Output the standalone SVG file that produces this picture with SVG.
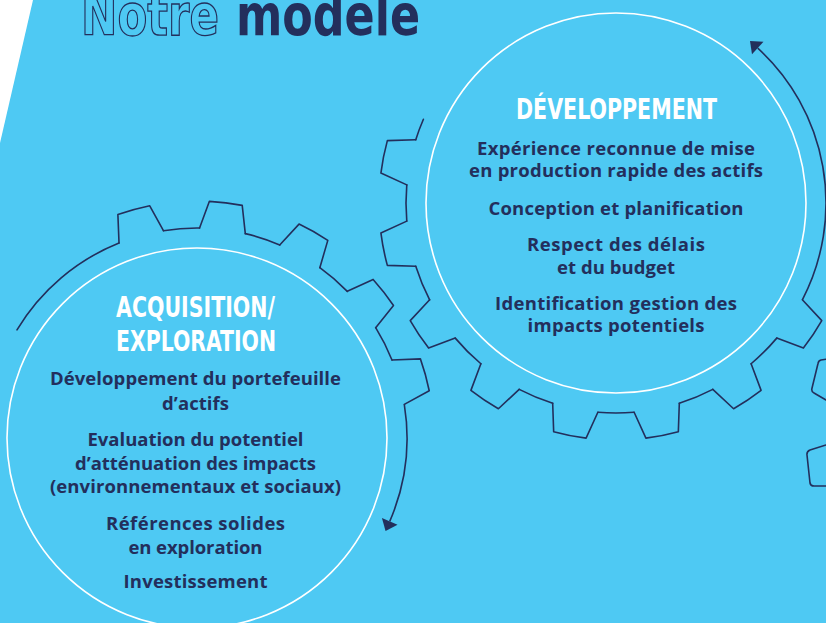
<svg xmlns="http://www.w3.org/2000/svg" xmlns:xlink="http://www.w3.org/1999/xlink" width="826" height="623" viewBox="0 0 826 623">
<style>
.gear{fill:none;stroke:#232f5c;stroke-width:1.6;stroke-linejoin:round;stroke-linecap:round}
.ring{fill:none;stroke:#ffffff;stroke-width:1.6}
.head{font-family:'Liberation Sans Narrow','DejaVu Sans Condensed','DejaVu Sans',sans-serif;font-weight:700;fill:#ffffff;font-size:29px}
.body{font-family:'Open Sans','Noto Sans',sans-serif;font-weight:700;fill:#232f5c;font-size:18.5px}
.title{font-family:'Liberation Sans Narrow','DejaVu Sans Condensed','DejaVu Sans',sans-serif;font-weight:700;font-size:57px}
.arrow{fill:none;stroke:#232f5c;stroke-width:1.6}
</style>
<defs>
<path id="tooth" d="M208.73,-23.04 L236.42,-16.53 A237,237 0 0 1 236.42,16.53 L208.73,23.04"/>
<path id="gap" d="M209.22,-18.12 A210,210 0 0 1 209.22,18.12"/>
<marker id="head" markerUnits="userSpaceOnUse" markerWidth="12" markerHeight="18" refX="0" refY="8.5" orient="auto" overflow="visible">
<path d="M0,0 L10.5,8.5 L0,17 z" fill="#232f5c"/>
</marker>
</defs>
<rect x="0" y="0" width="826" height="623" fill="#4ec9f3"/>
<polygon points="0,0 33,0 0,143" fill="#ffffff"/>

<g id="title">
<text class="title" x="81" y="35" textLength="138" lengthAdjust="spacingAndGlyphs" fill="#4ec9f3" stroke="#232f5c" stroke-width="1.3">Notre</text>
<text class="title" x="236" y="35" textLength="184" lengthAdjust="spacingAndGlyphs" fill="#232f5c">modèle</text>
</g>

<g id="node-acquisition">
<g class="gear">
<path d="M16.99,329.84 A210,210 0 0 1 119.01,243.02"/>
<use xlink:href="#tooth" transform="translate(197,438) rotate(254.5)"/>
<use xlink:href="#gap" transform="translate(197,438) rotate(265.75)"/>
<use xlink:href="#tooth" transform="translate(197,438) rotate(277)"/>
<use xlink:href="#gap" transform="translate(197,438) rotate(288.25)"/>
<use xlink:href="#tooth" transform="translate(197,438) rotate(299.5)"/>
<use xlink:href="#gap" transform="translate(197,438) rotate(310.75)"/>
<use xlink:href="#tooth" transform="translate(197,438) rotate(322)"/>
<use xlink:href="#gap" transform="translate(197,438) rotate(333.25)"/>
<use xlink:href="#tooth" transform="translate(197,438) rotate(344.5)"/>
</g>
<circle class="ring" cx="197" cy="438" r="190"/>
<text class="head" x="116" y="317" textLength="159" lengthAdjust="spacingAndGlyphs">ACQUISITION/</text>
<text class="head" x="116" y="351" textLength="160" lengthAdjust="spacingAndGlyphs">EXPLORATION</text>
<text class="body" x="50" y="385" textLength="291">Développement du portefeuille</text>
<text class="body" x="162" y="409.5" textLength="67">d’actifs</text>
<text class="body" x="87.5" y="446" textLength="216">Evaluation du potentiel</text>
<text class="body" x="75" y="470" textLength="241">d’atténuation des impacts</text>
<text class="body" x="50" y="493" textLength="291">(environnementaux et sociaux)</text>
<text class="body" x="106" y="530" textLength="179">Références solides</text>
<text class="body" x="128.5" y="553.5" textLength="134">en exploration</text>
<text class="body" x="123.5" y="588" textLength="144">Investissement</text>
</g>

<g id="node-developpement">
<g class="gear">
<path d="M423.42,119.26 A210,210 0 0 0 415.77,139.68"/>
<use xlink:href="#tooth" transform="translate(616,203) rotate(191.25)"/>
<use xlink:href="#gap" transform="translate(616,203) rotate(180)"/>
<use xlink:href="#tooth" transform="translate(616,203) rotate(168.75)"/>
<use xlink:href="#gap" transform="translate(616,203) rotate(157.5)"/>
<use xlink:href="#tooth" transform="translate(616,203) rotate(146.25)"/>
<use xlink:href="#gap" transform="translate(616,203) rotate(135)"/>
<use xlink:href="#tooth" transform="translate(616,203) rotate(123.75)"/>
<use xlink:href="#gap" transform="translate(616,203) rotate(112.5)"/>
<use xlink:href="#tooth" transform="translate(616,203) rotate(101.25)"/>
<use xlink:href="#gap" transform="translate(616,203) rotate(90)"/>
<use xlink:href="#tooth" transform="translate(616,203) rotate(78.75)"/>
<use xlink:href="#gap" transform="translate(616,203) rotate(67.5)"/>
<use xlink:href="#tooth" transform="translate(616,203) rotate(56.25)"/>
<use xlink:href="#gap" transform="translate(616,203) rotate(45)"/>
<use xlink:href="#tooth" transform="translate(616,203) rotate(33.75)"/>
</g>
<circle class="ring" cx="616" cy="203" r="190"/>
<text class="head" x="516" y="119" textLength="201" lengthAdjust="spacingAndGlyphs">DÉVELOPPEMENT</text>
<text class="body" x="477" y="155" textLength="278">Expérience reconnue de mise</text>
<text class="body" x="469" y="177" textLength="294">en production rapide des actifs</text>
<text class="body" x="488.5" y="214.5" textLength="255">Conception et planification</text>
<text class="body" x="527" y="250.5" textLength="178">Respect des délais</text>
<text class="body" x="557" y="273.5" textLength="118">et du budget</text>
<text class="body" x="495" y="309.5" textLength="242">Identification gestion des</text>
<text class="body" x="527.5" y="332" textLength="177">impacts potentiels</text>
</g>

<g id="gear-right-edge" class="gear">
<path d="M826,359.3 L821,360 Q818.5,360.5 818,363.5 L811.8,389 Q811.5,392 814,393 L826,400"/>
<path d="M826,445 L810,450 Q806.5,451.5 807,455 L810,483 Q810.5,486 814,486 L826,486"/>
</g>

<g id="connectors">
<path class="arrow" d="M404.30,404.43 A210,210 0 0 1 389.73,521.40" marker-end="url(#head)"/>
<path class="arrow" d="M802.36,299.79 A210,210 0 0 0 757.74,48.05" marker-end="url(#head)"/>
</g>
</svg>
